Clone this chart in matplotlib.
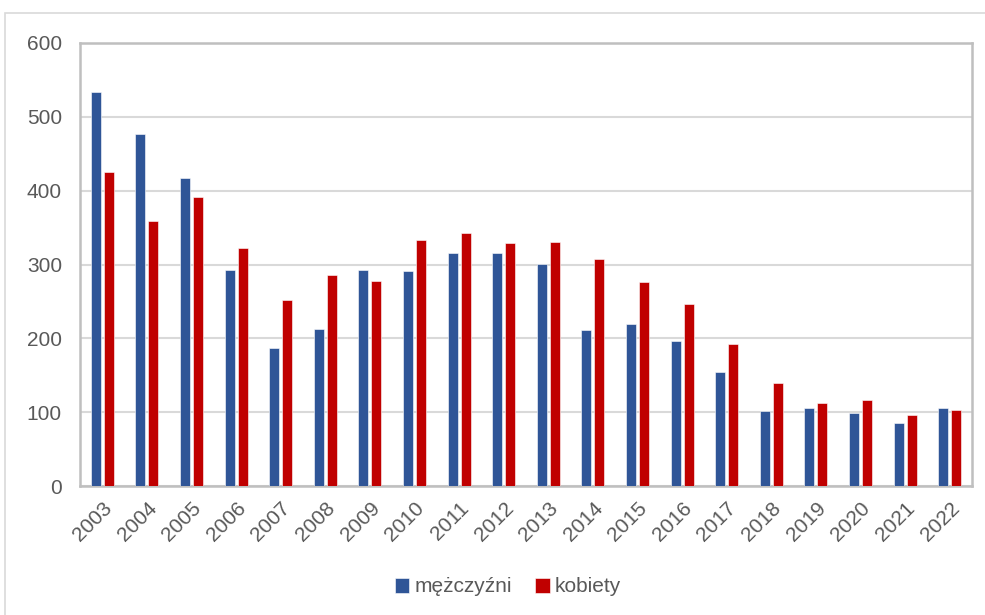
import matplotlib.pyplot as plt
import numpy as np
from matplotlib.patches import Rectangle

plt.rcParams['font.family'] = ['Liberation Sans', 'DejaVu Sans']

years = ['2003', '2004', '2005', '2006', '2007', '2008', '2009', '2010', '2011', '2012',
         '2013', '2014', '2015', '2016', '2017', '2018', '2019', '2020', '2021', '2022']
men = [534, 477, 417, 293, 187, 212, 293, 291, 316, 316,
       301, 211, 220, 196, 155, 101, 106, 99, 85, 106]
women = [425, 359, 392, 323, 252, 286, 278, 333, 342, 329,
         330, 307, 276, 247, 193, 140, 112, 116, 96, 103]

blue = '#2F5597'
red = '#C00000'
txt = '#595959'

fig = plt.figure(figsize=(9.85, 6.15), dpi=100)
W, H = 985, 615
ax = fig.add_axes([80 / W, (H - 486) / H, (972 - 80) / W, (486 - 43) / H])

# outer chart border
fig.patches.append(Rectangle((5 / W, -0.01), 1.0, (H - 13) / H + 0.01, transform=fig.transFigure,
                             fill=False, edgecolor='#d9d9d9', linewidth=1.2))

x = np.arange(len(years))
w = 0.225
ax.bar(x - 0.145, men, w, color=blue, edgecolor='white', linewidth=0.4, label='mężczyźni', zorder=3)
ax.bar(x + 0.145, women, w, color=red, edgecolor='white', linewidth=0.4, label='kobiety', zorder=3)

ax.set_xlim(-0.5, len(years) - 0.5)
ax.set_ylim(0, 600)
ax.set_yticks(range(0, 601, 100))
ax.yaxis.grid(True, color='#d9d9d9', linewidth=1.5, zorder=0)
ax.set_axisbelow(True)
for s in ax.spines.values():
    s.set_color('#bfbfbf')
    s.set_linewidth(1.8)
ax.tick_params(length=0, labelsize=15, labelcolor=txt)
ax.tick_params(axis='y', pad=13)
ax.tick_params(axis='x', pad=9)
ax.set_xticks(x)
ax.set_xticklabels(years, rotation=45, ha='right', rotation_mode='anchor')

leg = fig.legend(loc='center', bbox_to_anchor=(508 / W, (H - 587) / H), ncol=2, frameon=False,
                 fontsize=15, handlelength=0.7, handleheight=0.7, handletextpad=0.25,
                 columnspacing=1.1, labelcolor=txt)

fig.savefig('out.png', dpi=100)
